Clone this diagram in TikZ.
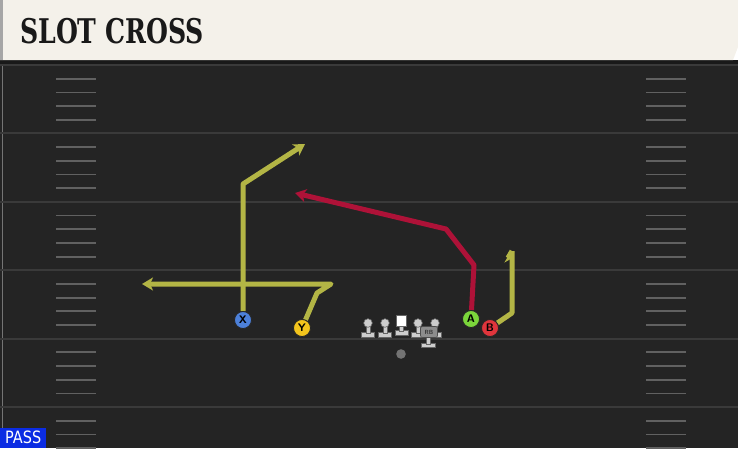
\documentclass[tikz,border=0pt]{standalone}
\usepackage{fontspec}
\usetikzlibrary{arrows.meta,backgrounds}
\newfontfamily\titlefont{DejaVu Serif}
\newfontfamily\tagfont{DejaVu Sans}
\definecolor{fieldbg}{HTML}{242424}
\definecolor{fieldline}{HTML}{3A3A3A}
\definecolor{titlebg}{HTML}{F4F1EA}
\definecolor{yroute}{HTML}{B3B545}
\definecolor{rroute}{HTML}{AE1238}
\definecolor{xblue}{HTML}{4C80D9}
\definecolor{yyellow}{HTML}{F3C41C}
\definecolor{agreen}{HTML}{7BD63B}
\definecolor{bred}{HTML}{E0353C}
\definecolor{olgray}{HTML}{CDCDCD}
\definecolor{passblue}{HTML}{0B2CE3}
\newcommand{\routewidth}{5pt}
\newcommand{\yardgap}{68.4}
\tikzset{
  player/.style={circle, draw=black!85, line width=0.8pt, minimum size=17pt, inner sep=0pt,
    font=\sffamily\bfseries\fontsize{11}{11}\selectfont},
  route/.style={line width=\routewidth, line join=round, -{Stealth[length=11pt,width=13pt,inset=3pt]}},
  hashmark/.style={fieldline!80, line width=1.8pt},
  lineman/.style={fill=olgray, draw=black!60, line width=0.6pt}
}

\begin{document}
\begin{tikzpicture}[x=1pt,y=-1pt]
\useasboundingbox (0,0) rectangle (738,448);
%title
\fill[black!90] (0,60) rectangle (738,64);
\fill[titlebg] (0,0) -- (738,0) -- (738,47) -- (733,60) -- (0,60) -- cycle;
\fill[black!35] (0,0) rectangle (3,60);
\node[anchor=base west, inner sep=0pt, text=black!90] (title) at (20,43)
  {\scalebox{0.74}[1]{\titlefont\bfseries\fontsize{34}{34}\selectfont SLOT CROSS}};
%players
\node[player, fill=xblue] (X) at (243,320) {X};
\node[player, fill=yyellow] (Y) at (302,328) {Y};
\node[player, fill=agreen] (A) at (471,319) {A};
\node[player, fill=bred] (B) at (490,328) {B};
\coordinate (xbreak) at (243,184);
\coordinate (xend) at (305,144);
\coordinate (ystem) at (317,293);
\coordinate (ybreak) at (331,284);
\coordinate (yend) at (142,284);
\coordinate (astem) at (474,265);
\coordinate (abreak) at (446,229);
\coordinate (aend) at (295,193);
\coordinate (bstem) at (512,313);
\coordinate (btop) at (512,251);
\coordinate (bend) at (505,263);
%field and routes
\begin{scope}[on background layer]
\fill[fieldbg] (0,64) rectangle (738,448);
\draw[fieldline!70, line width=1pt] (2,64) -- (2,448);
\foreach \k in {0,...,5} {
  \draw[fieldline, line width=2pt] (0,65+\k*\yardgap) -- (738,65+\k*\yardgap);
  \foreach \j in {1,...,4} {
    \draw[hashmark] (56,65+\k*\yardgap+\j*13.7) -- (96,65+\k*\yardgap+\j*13.7);
    \draw[hashmark] (646,65+\k*\yardgap+\j*13.7) -- (686,65+\k*\yardgap+\j*13.7);
  }
}
\draw[route, yroute] (X) -- (xbreak) -- (xend);
\draw[route, yroute] (Y) -- (ystem) -- (ybreak) -- (yend);
\draw[route, rroute] (A) -- (astem) -- (abreak) -- (aend);
\draw[yroute, line width=\routewidth, line join=round] (B) -- (bstem) -- (btop);
\draw[route, yroute, -{Stealth[length=8pt,width=9pt,inset=2pt,left]}] (btop) -- (bend);
\end{scope}
%line
\foreach \lx in {368,385,418,435} {
  \draw[lineman] (\lx-6.5,332) rectangle (\lx+6.5,337);
  \draw[lineman] (\lx-2,324) rectangle (\lx+2,333);
  \draw[lineman] (\lx,323) circle (4.3);
}
\draw[lineman] (395,330) rectangle (408,335);
\draw[lineman] (399.5,325) rectangle (403.5,331);
\draw[fill=white, draw=black!60, line width=0.6pt] (396.5,315) rectangle (406.5,326);
\draw[lineman] (421,343) rectangle (435,347);
\draw[lineman] (426,337) rectangle (430,344);
\node[fill=black!45, draw=black!70, line width=0.6pt, rounded corners=2pt, minimum width=17pt,
  minimum height=11pt, inner sep=0pt, text=black!80, font=\sffamily\bfseries\fontsize{6}{6}\selectfont]
  (RB) at (429,332) {RB};
\fill[black!55] (401,354) circle (4.8);
%tag
\node[fill=passblue, anchor=south west, minimum width=46pt, minimum height=20pt, inner sep=0pt,
  text=white, font=\tagfont\fontsize{17}{17}\selectfont] (pass) at (0,448) {\scalebox{0.85}[1]{PASS}};
\end{tikzpicture}
\end{document}
